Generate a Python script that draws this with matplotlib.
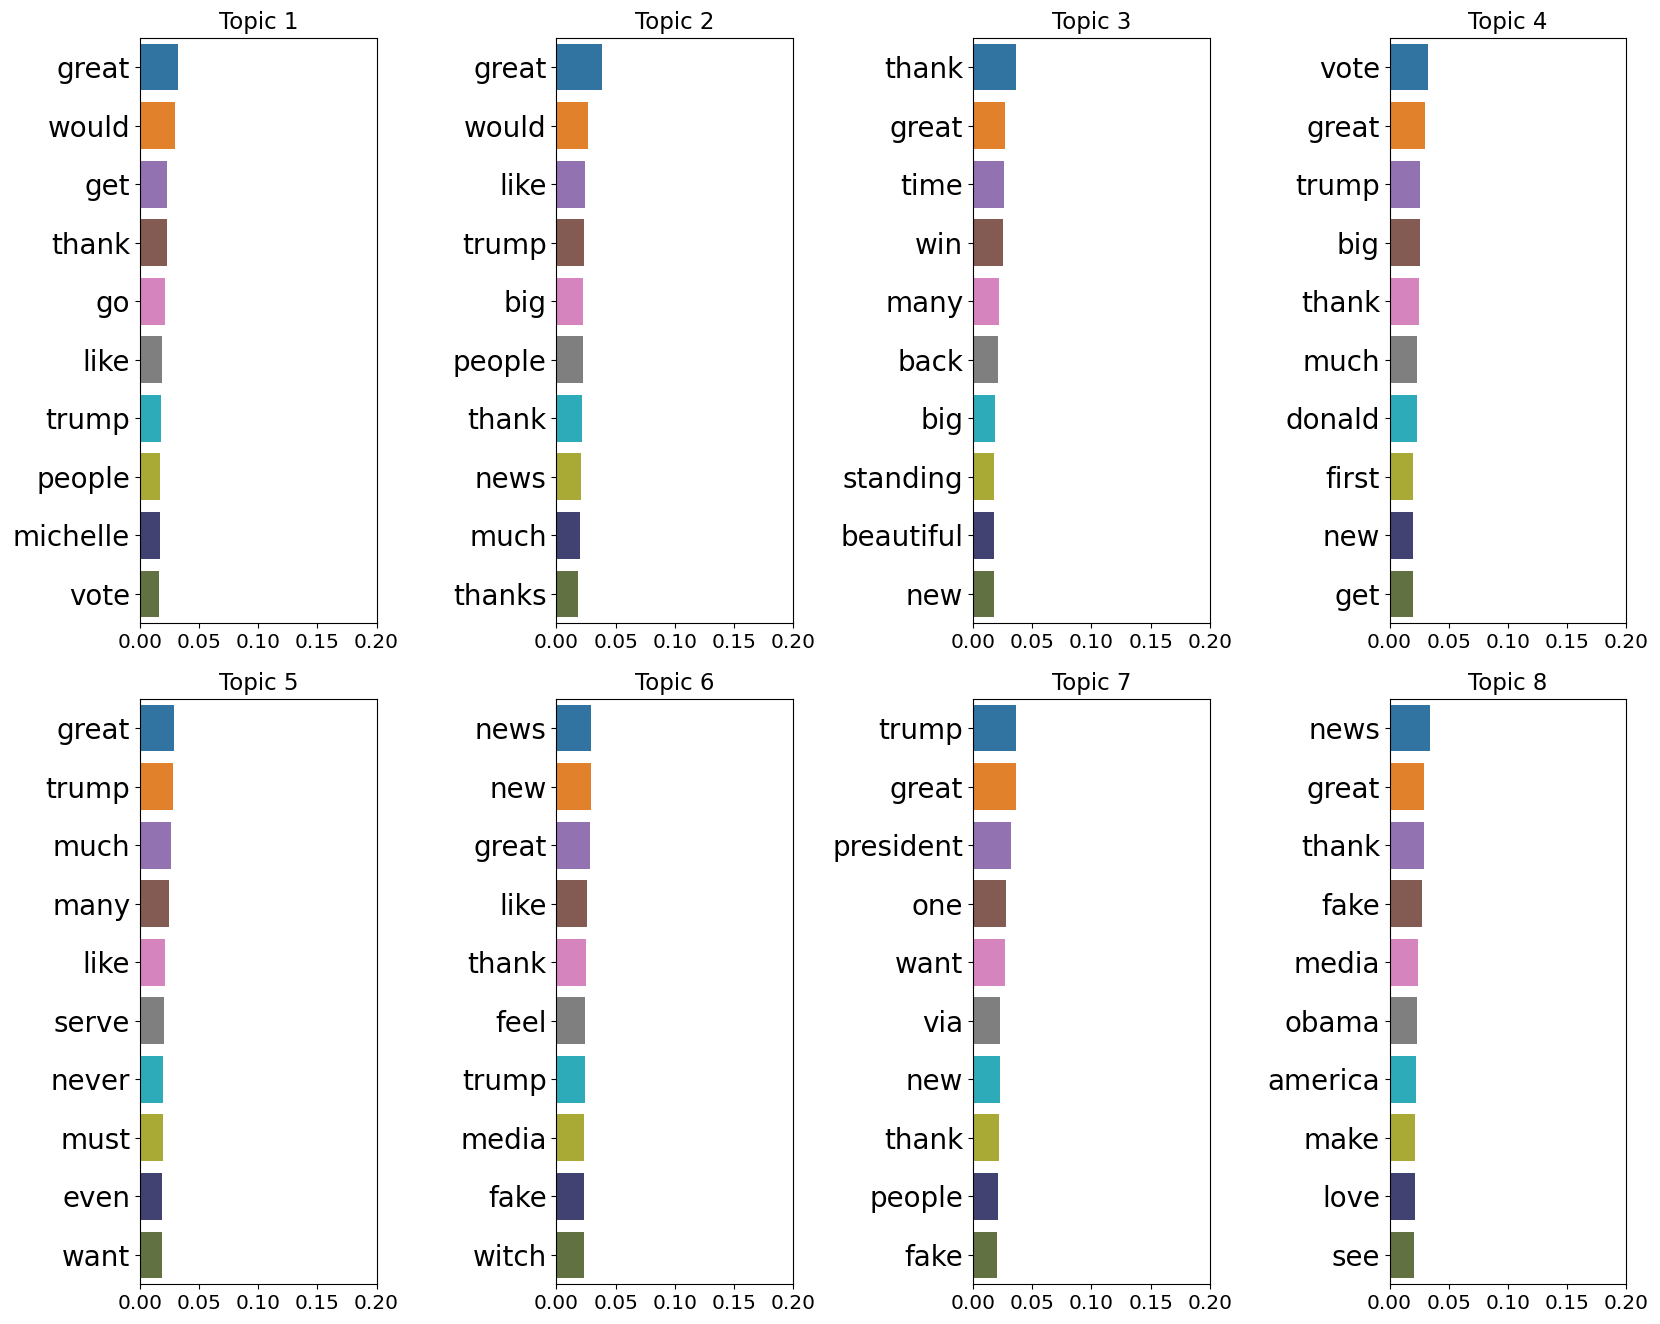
import colorsys

import matplotlib
matplotlib.use("Agg")
import matplotlib.pyplot as plt
import matplotlib.colors as mcolors

topic_titles = ["Topic 1", "Topic 2", "Topic 3", "Topic 4",
                "Topic 5", "Topic 6", "Topic 7", "Topic 8"]

words_1 = ["great", "would", "get", "thank", "go", "like", "trump", "people", "michelle", "vote"]
probs_1 = [0.0323, 0.0295, 0.0230, 0.0225, 0.0210, 0.0188, 0.0175, 0.0170, 0.0169, 0.0158]

words_2 = ["great", "would", "like", "trump", "big", "people", "thank", "news", "much", "thanks"]
probs_2 = [0.0386, 0.0264, 0.0245, 0.0233, 0.0228, 0.0222, 0.0214, 0.0203, 0.0197, 0.0180]

words_3 = ["thank", "great", "time", "win", "many", "back", "big", "standing", "beautiful", "new"]
probs_3 = [0.0360, 0.0270, 0.0262, 0.0250, 0.0220, 0.0214, 0.0186, 0.0177, 0.0174, 0.0174]

words_4 = ["vote", "great", "trump", "big", "thank", "much", "donald", "first", "new", "get"]
probs_4 = [0.0327, 0.0300, 0.0260, 0.0259, 0.0250, 0.0234, 0.0228, 0.0200, 0.0197, 0.0194]

words_5 = ["great", "trump", "much", "many", "like", "serve", "never", "must", "even", "want"]
probs_5 = [0.0290, 0.0276, 0.0264, 0.0248, 0.0214, 0.0200, 0.0194, 0.0191, 0.0188, 0.0186]

words_6 = ["news", "new", "great", "like", "thank", "feel", "trump", "media", "fake", "witch"]
probs_6 = [0.0295, 0.0293, 0.0281, 0.0256, 0.0248, 0.0242, 0.0239, 0.0236, 0.0233, 0.0233]

words_7 = ["trump", "great", "president", "one", "want", "via", "new", "thank", "people", "fake"]
probs_7 = [0.0366, 0.0360, 0.0318, 0.0281, 0.0267, 0.0230, 0.0225, 0.0217, 0.0214, 0.0203]

words_8 = ["news", "great", "thank", "fake", "media", "obama", "america", "make", "love", "see"]
probs_8 = [0.0343, 0.0293, 0.0290, 0.0276, 0.0236, 0.0233, 0.0225, 0.0214, 0.0211, 0.0205]

all_words = [words_1, words_2, words_3, words_4, words_5, words_6, words_7, words_8]
all_probs = [probs_1, probs_2, probs_3, probs_4, probs_5, probs_6, probs_7, probs_8]

base_colors = ["tab:blue", "tab:orange", "tab:purple", "tab:brown", "tab:pink",
               "tab:gray", "tab:cyan", "tab:olive", "#393b79", "#637939"]


def desaturate(color, prop=0.75):
    # same idea as seaborn's default bar saturation
    r, g, b = mcolors.to_rgb(color)
    h, l, s = colorsys.rgb_to_hls(r, g, b)
    return colorsys.hls_to_rgb(h, l, s * prop)


colors = [desaturate(c) for c in base_colors]

fig, axes = plt.subplots(2, 4, figsize=(16.6, 13.24), dpi=100)
axes = axes.flatten()

for i, ax in enumerate(axes):
    words = all_words[i]
    probs = all_probs[i]
    ypos = list(range(len(words)))
    ax.barh(ypos, probs, height=0.8, color=colors[:len(words)])
    ax.set_yticks(ypos)
    ax.set_yticklabels(words, fontsize=20)
    ax.set_ylim(len(words) - 0.5, -0.5)
    ax.set_xlim(0, 0.2)
    ax.set_xticks([0.0, 0.05, 0.10, 0.15, 0.20])
    ax.set_xticklabels(["0.00", "0.05", "0.10", "0.15", "0.20"])
    ax.tick_params(axis="x", labelsize=14.5)
    ax.set_title(topic_titles[i], fontsize=16.5)

fig.subplots_adjust(left=0.0843, right=0.9797, top=0.9715, bottom=0.030,
                    wspace=0.76, hspace=0.129)
fig.savefig("out.png", dpi=100)
